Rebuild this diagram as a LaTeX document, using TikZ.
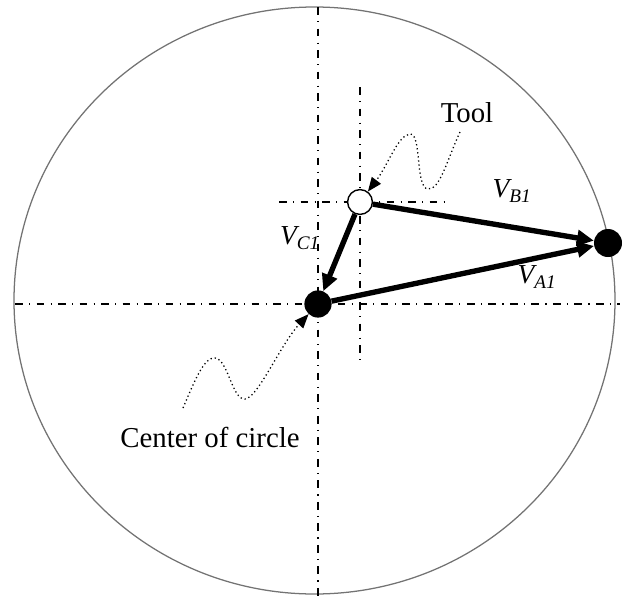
\documentclass[tikz,border=0pt]{standalone}
\usepackage{fontspec}
\setmainfont{Liberation Serif}
\usetikzlibrary{arrows.meta}

\begin{document}
\begin{tikzpicture}[x=0.025cm,y=-0.025cm,
  axis/.style={line width=1.1pt,dash pattern=on 5.5pt off 4.5pt on 0.8pt off 4.5pt},
  vec/.style={line width=3.8pt,-{Triangle[length=12pt,width=11pt]}},
  lead/.style={line width=0.9pt,dotted,-{Triangle[length=10pt,width=8pt]}},
  dot/.style={circle,fill,inner sep=0pt,minimum size=#1},
  vlab/.style={font=\fontsize{19.5}{22}\selectfont\itshape},
  txt/.style={font=\fontsize{20.5}{24}\selectfont}]
  \useasboundingbox (0,0) rectangle (634,599);
  \draw[line width=0.9pt,black!55] (314.5,300.5) ellipse [x radius=300.5,y radius=293.5];
  % centre lines
  \draw[axis] (15,304) -- (620,304);
  \draw[axis] (318,7) -- (318,599);
  \draw[axis] (279,202) -- (445,202);
  \draw[axis] (360,87) -- (360,364);
  \draw (318,304) node[dot=0.68cm] (ctr) {};
  \draw (608,243) node[dot=0.7cm] (pa) {};
  \draw (360,202) node[circle,draw,fill=white,line width=1pt,inner sep=0pt,minimum size=0.62cm] (tool) {};
  \draw[vec] (tool) -- (pa);
  \draw[vec] (ctr) -- (pa);
  \draw[vec] (tool) -- (ctr);
  \node[vlab] (vb) at (512,191) {V\textsubscript{B1}};
  \node[vlab] (vc) at (300,238) {V\textsubscript{C1}};
  \node[vlab] (va) at (537,277) {V\textsubscript{A1}};
  \node[txt] (tooltxt) at (467,113) {Tool};
  \node[txt] (ctrtxt) at (210,437) {Center of circle};
  % leaders
  \coordinate (tl) at (460,132);
  \coordinate (cl) at (183,408);
  \draw[lead] (tl) .. controls (447,160) and (440,190) .. (428,189)
    .. controls (415,188) and (422,133) .. (410,134)
    .. controls (398,135) and (388,165) .. (tool);
  \draw[lead] (cl) .. controls (195,380) and (204,357) .. (215,358)
    .. controls (228,359) and (232,400) .. (245,399)
    .. controls (258,398) and (280,345) .. (ctr);
\end{tikzpicture}
\end{document}
